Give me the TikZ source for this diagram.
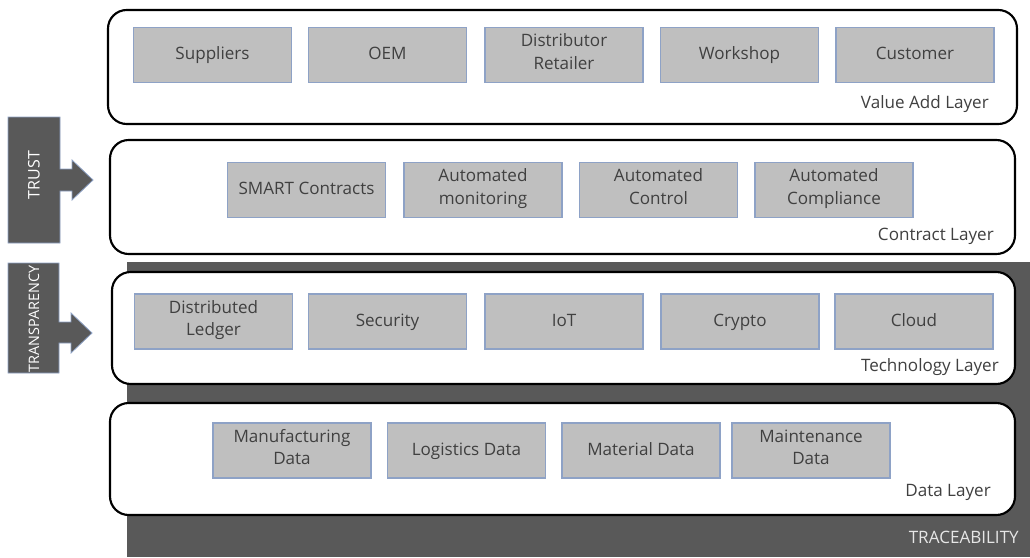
\documentclass[tikz,border=0pt]{standalone}
\usepackage{fontspec}
\setmainfont{Open Sans}
\begin{document}
\begin{tikzpicture}[x=0.75pt,y=-0.75pt,
  every node/.style={font=\fontsize{12.8}{17}\selectfont, text=txtgray, align=center, inner sep=0pt},
  layerbox/.style={draw=black, line width=1.6pt, rounded corners=14pt, fill=white},
  itembox/.style={draw=itemedge, line width=0.8pt, fill=itemfill, minimum height=41.25pt,
    execute at begin node=\strut, execute at end node=\strut},
  wideitem/.style={itembox, minimum width=118.5pt},
  sidebar/.style={fill=darkgray5, draw=itemedge, line width=0.6pt},
  sidetext/.style={text=white, rotate=90, font=\fontsize{12}{14}\selectfont}
]
\definecolor{txtgray}{HTML}{404040}
\definecolor{itemfill}{HTML}{BFBFBF}
\definecolor{itemedge}{HTML}{8EA2C6}
\definecolor{darkgray5}{HTML}{595959}
\definecolor{tracetext}{HTML}{E6E6E6}
\useasboundingbox (0,0) rectangle (1030,557);
\fill[white] (0,0) rectangle (1030,557);

% traceability background
\fill[darkgray5] (127,262) rectangle (1030,557);
\node[anchor=base east, text=tracetext] (trace) at (1019,543) {TRACEABILITY};

% layers
\draw[layerbox] (108,10) rectangle (1017,124);
\draw[layerbox] (110,140) rectangle (1015,254);
\draw[layerbox] (112,272) rectangle (1015,384);
\draw[layerbox] (110,403) rectangle (1015,515);

\node[anchor=base east] (lval) at (989,108) {Value Add Layer};
\node[anchor=base east] (lcon) at (994,240) {Contract Layer};
\node[anchor=base east] (ltec) at (999,371) {Technology Layer};
\node[anchor=base east] (ldat) at (991,496) {Data Layer};

% row 1
\node[wideitem] (sup) at (212.5,55) {Suppliers};
\node[wideitem] (oem) at (387.5,55) {OEM};
\node[wideitem] (dis) at (564,55) {Distributor\\Retailer};
\node[wideitem] (wor) at (739.5,55) {Workshop};
\node[wideitem] (cus) at (915,55) {Customer};

% row 2
\node[wideitem] (sma) at (306.5,190) {SMART Contracts};
\node[wideitem] (amo) at (483,190) {Automated\\monitoring};
\node[wideitem] (aco) at (658.5,190) {Automated\\Control};
\node[wideitem] (acm) at (834,190) {Automated\\Compliance};

% row 3
\node[wideitem] (dle) at (213.5,321.5) {Distributed\\Ledger};
\node[wideitem] (sec) at (387.5,321.5) {Security};
\node[wideitem] (iot) at (564,321.5) {IoT};
\node[wideitem] (cry) at (740,321.5) {Crypto};
\node[wideitem] (clo) at (914,321.5) {Cloud};

% row 4
\node[wideitem] (man) at (292,450.5) {Manufacturing\\Data};
\node[wideitem] (log) at (466.5,450.5) {Logistics Data};
\node[wideitem] (mat) at (641,450.5) {Material Data};
\node[wideitem] (mai) at (811,450.5) {Maintenance\\Data};

% side arrows
\draw[sidebar] (8,117) -- (60,117) -- (60,169) -- (72,169) -- (72,160) -- (93,180)
  -- (72,200) -- (72,191) -- (60,191) -- (60,243) -- (8,243) -- cycle;
\node[sidetext] (trust) at (34,175) {TRUST};

\draw[sidebar] (8,263) -- (59,263) -- (59,322) -- (71,322) -- (71,313) -- (92,333)
  -- (71,353) -- (71,343) -- (59,343) -- (59,373) -- (8,373) -- cycle;
\node[sidetext, font=\fontsize{10.8}{13}\selectfont] (transp) at (34,319) {TRANSPARENCY};
\end{tikzpicture}
\end{document}
